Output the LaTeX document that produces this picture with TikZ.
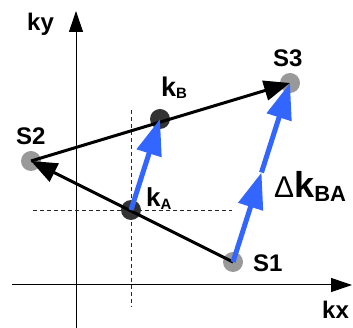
\documentclass[tikz,border=0pt]{standalone}
\usepackage{fontspec}
\setmainfont{Liberation Sans}
\usetikzlibrary{arrows.meta,calc}
\definecolor{vecblue}{HTML}{3366FF}
\definecolor{sgray}{HTML}{999999}
\definecolor{kdark}{HTML}{333333}
\newcommand{\fs}[1]{\fontsize{#1}{#1}\selectfont}
\tikzset{
  axis/.style={line width=1pt,-{Triangle[length=21pt,width=14pt]}},
  guide/.style={line width=0.9pt,black!85,dash pattern=on 4pt off 3pt},
  sdot/.style={circle,fill=sgray,minimum size=20pt,inner sep=0pt},
  kdot/.style={circle,fill=kdark,minimum size=20pt,inner sep=0pt},
  blackvec/.style={line width=3pt,-{Triangle[length=26pt,width=20pt]}},
  bluevec/.style={line width=5pt,vecblue,-{Triangle[length=36pt,width=25pt]}},
  lbl/.style={anchor=base west,inner sep=0pt,font=\bfseries\fs{24}},
}
\begin{document}
\begin{tikzpicture}[x=1pt,y=-1pt]
\useasboundingbox (0,0) rectangle (353,328);
% axes
\coordinate (yb) at (76,328);
\coordinate (yt) at (76,11);
\coordinate (xl) at (12,285);
\coordinate (xr) at (352,285);
\draw[axis] (yb) -- (yt);
\draw[axis] (xl) -- (xr);
% guides
\coordinate (v1) at (131,110);
\coordinate (v2) at (131,307);
\coordinate (h1) at (33,210);
\coordinate (h2) at (232,210);
\draw[guide] (v1) -- (v2);
\draw[guide] (h1) -- (h2);
% points
\node[sdot] (S1) at (233,262) {};
\node[sdot] (S2) at (31,161) {};
\node[sdot] (S3) at (290,83) {};
\node[kdot] (kA) at (131,210) {};
\node[kdot] (kB) at (160,119) {};
\coordinate (M) at ($(S1.center)!0.5!(S3.center)$);
% black vectors
\draw[blackvec] (S1.center) -- (S2.center);
\draw[blackvec] (S2.center) -- (S3.center);
% blue vectors
\draw[bluevec] (kA.center) -- (kB.center);
\draw[bluevec] (S1.center) -- (M);
\draw[bluevec] (M) -- (S3.center);
% labels
\node[lbl] (lky) at (27,31) {ky};
\node[lbl] (lkx) at (322,318) {kx};
\node[lbl] (lS1) at (253,272) {S1};
\node[lbl] (lS2) at (16,145) {S2};
\node[lbl] (lS3) at (273,67) {S3};
\node[lbl] (lkB) at (161,97) {\fs{27}k\raisebox{-1.5pt}{\fs{15}B}};
\node[lbl] (lkA) at (146,207) {\fs{26}k\raisebox{-2.5pt}{\fs{15}A}};
\node[lbl] (ldk) at (274,198) {{\mdseries\fs{30}Δ}\fs{36}k\raisebox{-4pt}{\fs{22}BA}};
\end{tikzpicture}
\end{document}
